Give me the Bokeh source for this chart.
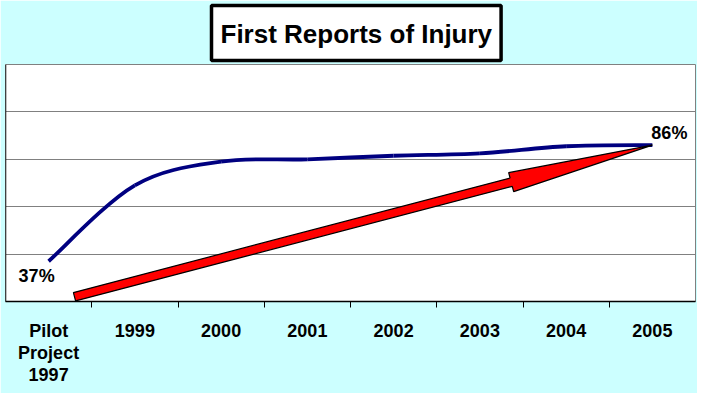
from bokeh.plotting import figure
from bokeh.models import FixedTicker, Span, ColumnDataSource
from bokeh.core.properties import value
from bokeh.embed import file_html
from bokeh.resources import INLINE

# ---- data ----
categories = ["Pilot\nProject\n1997", "1999", "2000", "2001", "2002", "2003", "2004", "2005"]
rates = [0.37, 0.69, 0.79, 0.80, 0.815, 0.825, 0.855, 0.86]
grid_values = [0.4, 0.6, 0.8, 1.0]
first_label = "37%"
last_label = "86%"
title_text = "First Reports of Injury"
arrow_tail = [0.80, 0.22]   # (category position, rate) where the trend arrow starts

# ---- layout ----
W, H = 697, 393
ML, MR, MT, MB = 5, 2, 64, 92
Y0, Y1 = 0.2, 1.2
FONT = "Liberation Sans"
n = len(categories)
xs = [i + 0.5 for i in range(n)]
frame_w = W - ML - MR
frame_h = H - MT - MB

p = figure(width=W, height=H, x_range=(0, n), y_range=(Y0, Y1),
           output_backend="svg", toolbar_location=None,
           min_border_left=ML, min_border_right=MR, min_border_top=MT, min_border_bottom=MB,
           background_fill_color="white", border_fill_color="#CCFFFF",
           outline_line_color="#808080", outline_line_width=1)

# boxed title
p.title.text = title_text
p.title.align = "left"
p.title.offset = 206
p.title.vertical_align = "top"
p.title.standoff = 4
p.title.text_font = FONT
p.title.text_font_style = "bold"
p.title.text_font_size = "26px"
p.title.text_color = "black"
p.title.background_fill_color = "white"
p.title.border_line_color = "black"
p.title.border_line_width = 3.5
p.title.padding = dict(left=9, right=9, top=13, bottom=12)

# axes
p.yaxis.visible = False
p.xaxis.ticker = FixedTicker(ticks=xs, minor_ticks=list(range(1, n)))
p.xaxis.major_label_overrides = {x: c for x, c in zip(xs, categories)}
p.xaxis.major_tick_out = 0
p.xaxis.major_tick_in = 0
p.xaxis.minor_tick_out = 6
p.xaxis.minor_tick_in = 0
p.xaxis.minor_tick_line_color = "black"
p.xaxis.axis_line_color = "black"
p.xaxis.axis_line_width = 1.5
p.xaxis.major_label_standoff = 13
p.xaxis.major_label_text_font = FONT
p.xaxis.major_label_text_font_style = "bold"
p.xaxis.major_label_text_font_size = "18px"
p.xaxis.major_label_text_color = "black"
p.xaxis.major_label_text_line_height = 1.1

p.xgrid.visible = False
p.ygrid.ticker = FixedTicker(ticks=grid_values)
p.ygrid.grid_line_color = "#808080"
p.ygrid.grid_line_width = 1

p.add_layout(Span(location=0, dimension="height", line_color="black", line_width=1.5))

# smoothed line (Bezier segments whose control points come from neighbouring data points)
x0, y0, x1, y1, cx0, cy0, cx1, cy1 = ([] for _ in range(8))
for i in range(n - 1):
    px, py = xs[i], rates[i]
    qx, qy = xs[i + 1], rates[i + 1]
    ax, ay = (xs[i - 1], rates[i - 1]) if i > 0 else (px, py)
    bx, by = (xs[i + 2], rates[i + 2]) if i + 2 < n else (qx, qy)
    x0.append(px); y0.append(py); x1.append(qx); y1.append(qy)
    cx0.append(px + (qx - ax) / 6); cy0.append(py + (qy - ay) / 6)
    cx1.append(qx - (bx - px) / 6); cy1.append(qy - (by - py) / 6)
p.bezier(x0=x0, y0=y0, x1=x1, y1=y1, cx0=cx0, cy0=cy0, cx1=cx1, cy1=cy1,
         line_color="#000080", line_width=3.8)

# trend arrow polygon (built in pixel space, converted back to data units)
sx = frame_w / n
sy = frame_h / (Y1 - Y0)
tx, ty = arrow_tail[0] * sx, arrow_tail[1] * sy
hx, hy = xs[-1] * sx, rates[-1] * sy
L = ((hx - tx) ** 2 + (hy - ty) ** 2) ** 0.5
dx, dy = (hx - tx) / L, (hy - ty) / L
nx, ny = -dy, dx
shaft, head_w, head_len = 4.3, 9.8, 146
bx_, by_ = hx - dx * head_len, hy - dy * head_len
pts = [
    (tx + nx * shaft, ty + ny * shaft),
    (bx_ + nx * shaft, by_ + ny * shaft),
    (bx_ + nx * head_w, by_ + ny * head_w),
    (hx, hy),
    (bx_ - nx * head_w, by_ - ny * head_w),
    (bx_ - nx * shaft, by_ - ny * shaft),
    (tx - nx * shaft, ty - ny * shaft),
]
p.patch([q[0] / sx for q in pts], [q[1] / sy for q in pts],
        fill_color="red", line_color="black", line_width=1.2)

# value labels
lab = ColumnDataSource(dict(x=[xs[0], xs[-1]], y=[rates[0], rates[-1]],
                            t=[first_label, last_label], xo=[-12, 17], yo=[15, -12]))
p.text(x="x", y="y", text="t", x_offset="xo", y_offset="yo", source=lab,
       text_font=value(FONT), text_font_style="bold", text_font_size="18px",
       text_align="center", text_baseline="middle", text_color="black")

open("out.html", "w").write(file_html(p, INLINE))
